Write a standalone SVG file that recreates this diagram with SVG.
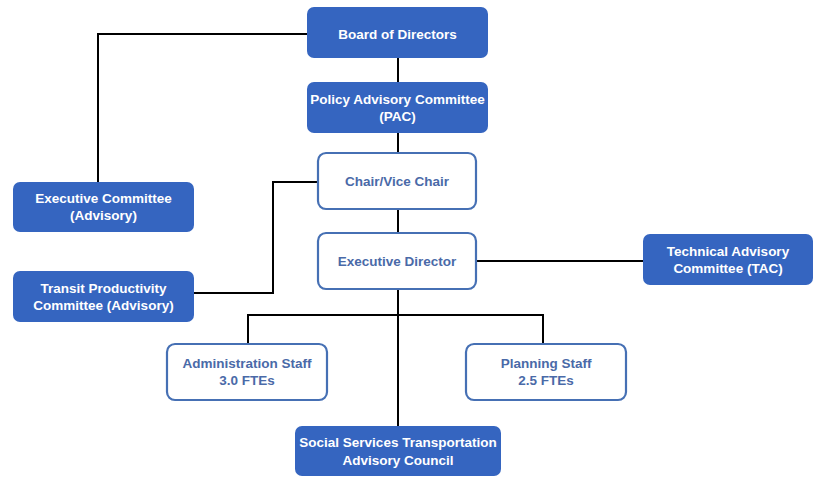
<svg xmlns="http://www.w3.org/2000/svg" width="813" height="477" viewBox="0 0 813 477">
  <style>
    .solid { fill: #3565C0; }
    .outline { fill: #FFFFFF; stroke: #4670B4; stroke-width: 2.2; }
    .t { font-family: "Liberation Sans", Arial, sans-serif; font-weight: bold; font-size: 13.5px; text-anchor: middle; }
    .tw { fill: #FFFFFF; }
    .tb { fill: #4A6AA8; }
    .link { fill: none; stroke: #000000; stroke-width: 2; }
  </style>
  <rect width="813" height="477" fill="#FFFFFF"/>

  <!-- connectors -->
  <g id="connectors">
    <path class="link" d="M307 34 H98 V182"/>
    <path class="link" d="M398 58 V82"/>
    <path class="link" d="M398 133 V153"/>
    <path class="link" d="M194 293 H273 V182 H318"/>
    <path class="link" d="M398 209 V233"/>
    <path class="link" d="M477 261 H643"/>
    <path class="link" d="M398 289 V426"/>
    <path class="link" d="M248 344 V315 H543 V344"/>
  </g>

  <g id="board">
    <rect class="solid" x="307" y="7" width="181" height="51" rx="7"/>
    <text class="t tw" x="397.5" y="39">Board of Directors</text>
  </g>
  <g id="pac">
    <rect class="solid" x="307" y="82" width="181" height="51" rx="7"/>
    <text class="t tw" x="397.5" y="104">Policy Advisory Committee</text>
    <text class="t tw" x="397.5" y="121">(PAC)</text>
  </g>
  <g id="chair">
    <rect class="outline" x="318" y="153" width="158" height="56" rx="8"/>
    <text class="t tb" x="397" y="186">Chair/Vice Chair</text>
  </g>
  <g id="exec-director">
    <rect class="outline" x="318" y="233" width="158" height="56" rx="8"/>
    <text class="t tb" x="397" y="266">Executive Director</text>
  </g>
  <g id="exec-committee">
    <rect class="solid" x="13" y="182" width="181" height="50" rx="7"/>
    <text class="t tw" x="103.5" y="203">Executive Committee</text>
    <text class="t tw" x="103.5" y="220">(Advisory)</text>
  </g>
  <g id="transit">
    <rect class="solid" x="13" y="271" width="181" height="51" rx="7"/>
    <text class="t tw" x="103.5" y="293">Transit Productivity</text>
    <text class="t tw" x="103.5" y="310">Committee (Advisory)</text>
  </g>
  <g id="tac">
    <rect class="solid" x="643" y="234" width="170" height="51" rx="7"/>
    <text class="t tw" x="728" y="256">Technical Advisory</text>
    <text class="t tw" x="728" y="273">Committee (TAC)</text>
  </g>
  <g id="admin">
    <rect class="outline" x="167" y="344" width="160" height="56" rx="8"/>
    <text class="t tb" x="247" y="368">Administration Staff</text>
    <text class="t tb" x="247" y="385">3.0 FTEs</text>
  </g>
  <g id="planning">
    <rect class="outline" x="466" y="344" width="160" height="56" rx="8"/>
    <text class="t tb" x="546" y="368">Planning Staff</text>
    <text class="t tb" x="546" y="385">2.5 FTEs</text>
  </g>
  <g id="sstac">
    <rect class="solid" x="295" y="426" width="206" height="50" rx="7"/>
    <text class="t tw" x="398" y="447">Social Services Transportation</text>
    <text class="t tw" x="398" y="465">Advisory Council</text>
  </g>
</svg>
